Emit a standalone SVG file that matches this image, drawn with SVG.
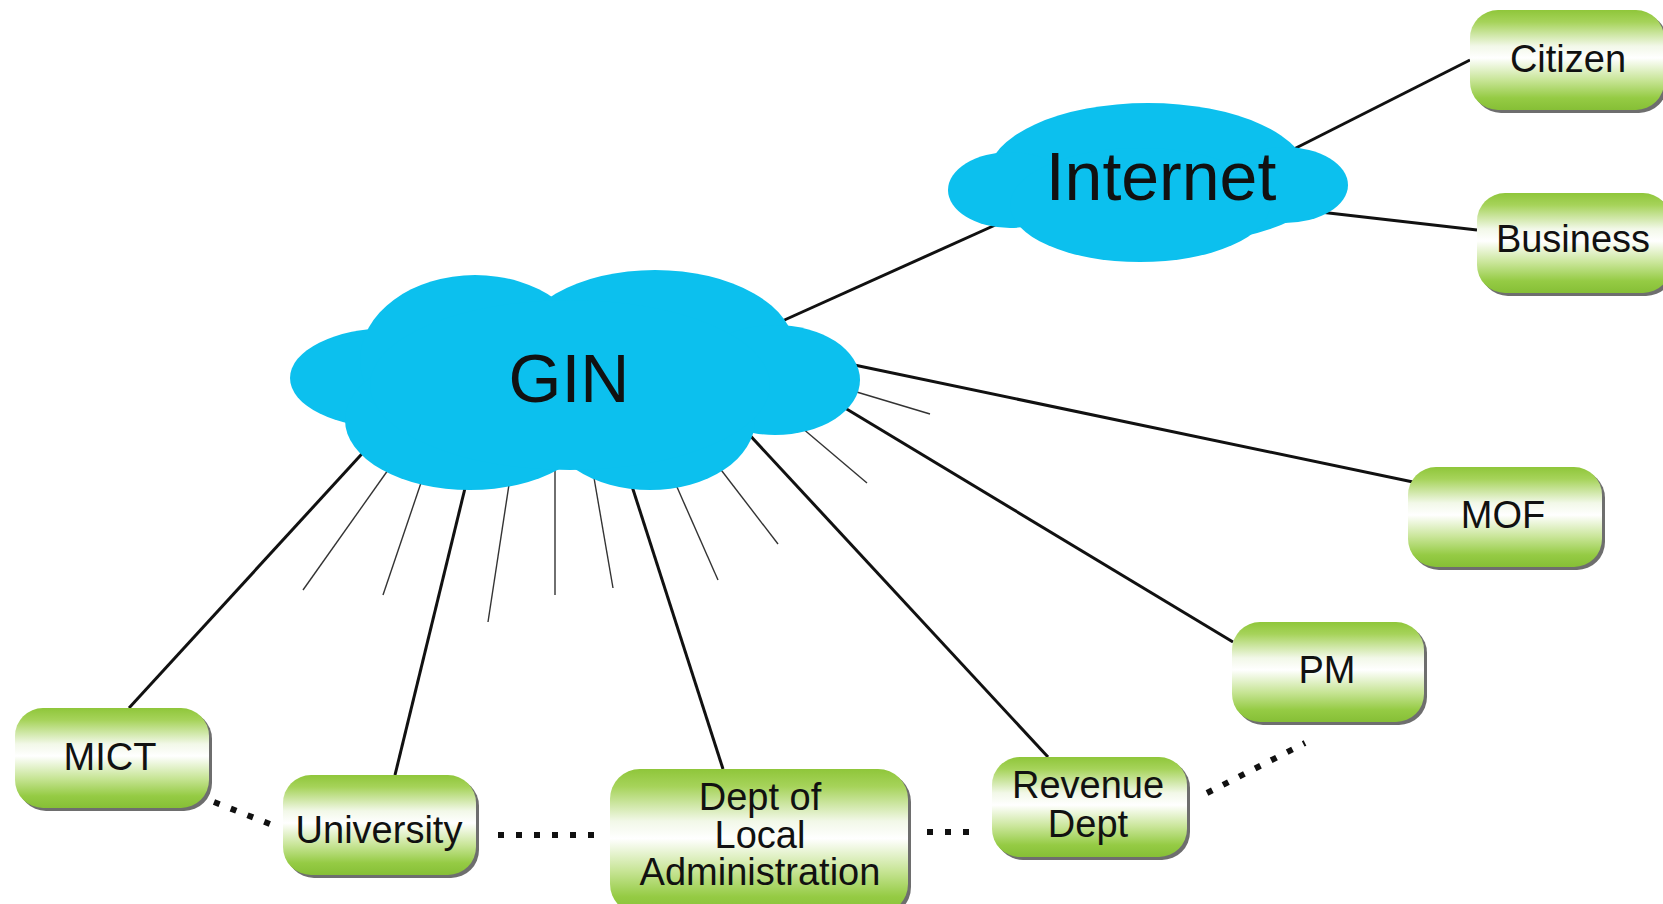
<svg xmlns="http://www.w3.org/2000/svg" width="1663" height="904" viewBox="0 0 1663 904">
<defs>
<linearGradient id="g" x1="0" y1="0" x2="0" y2="1">
<stop offset="0" stop-color="#8fc63a"/>
<stop offset="0.12" stop-color="#a6d35a"/>
<stop offset="0.36" stop-color="#f2f8e8"/>
<stop offset="0.48" stop-color="#ffffff"/>
<stop offset="0.7" stop-color="#c8e597"/>
<stop offset="0.88" stop-color="#95cb44"/>
<stop offset="1" stop-color="#86bf36"/>
</linearGradient>
<style>
.box{fill:url(#g);}
.sh{fill:#6e6e6e;}
.cloud{fill:#0cc0ee;}
.lbl{font-family:"Liberation Sans",Arial,sans-serif;font-size:38px;fill:#111;text-anchor:middle;}
.big{font-family:"Liberation Sans",Arial,sans-serif;font-size:68px;fill:#111;text-anchor:middle;}
.thick{stroke:#111;stroke-width:3;fill:none;}
.thin{stroke:#333;stroke-width:1.4;fill:none;}
.dot{stroke:#111;stroke-width:6;fill:none;stroke-dasharray:6 12;}
</style>
</defs>
<rect width="1663" height="904" fill="#ffffff"/>
<g id="connectors">
<line class="thick" x1="780" y1="322" x2="1002" y2="222"/>
<line class="thick" x1="1290" y1="151" x2="1470" y2="60"/>
<line class="thick" x1="1320" y1="212" x2="1477" y2="230"/>
<line class="thick" x1="840" y1="362" x2="1413" y2="482"/>
<line class="thick" x1="835" y1="402" x2="1233" y2="642"/>
<line class="thick" x1="745" y1="430" x2="1048" y2="757"/>
<line class="thick" x1="630" y1="480" x2="723" y2="769"/>
<line class="thick" x1="467" y1="480" x2="395" y2="775"/>
<line class="thick" x1="370" y1="445" x2="129" y2="708"/>
<line class="thin" x1="850" y1="390" x2="930" y2="414"/>
<line class="thin" x1="795" y1="422" x2="867" y2="483"/>
<line class="thin" x1="715" y1="462" x2="778" y2="544"/>
<line class="thin" x1="673" y1="478" x2="718" y2="580"/>
<line class="thin" x1="593" y1="472" x2="613" y2="588"/>
<line class="thin" x1="555" y1="465" x2="555" y2="595"/>
<line class="thin" x1="510" y1="478" x2="488" y2="622"/>
<line class="thin" x1="424" y1="474" x2="383" y2="595"/>
<line class="thin" x1="393" y1="463" x2="303" y2="590"/>
<line class="dot" x1="214" y1="802" x2="280" y2="828"/>
<line class="dot" x1="498" y1="835" x2="600" y2="835"/>
<line class="dot" x1="927" y1="832" x2="980" y2="832"/>
<line class="dot" x1="1207" y1="793" x2="1305" y2="743"/>
</g>
<g id="GIN">
<g class="cloud">
<ellipse cx="390" cy="378" rx="100" ry="50"/>
<ellipse cx="475" cy="360" rx="115" ry="85"/>
<ellipse cx="655" cy="350" rx="140" ry="80"/>
<ellipse cx="775" cy="380" rx="85" ry="55"/>
<ellipse cx="470" cy="420" rx="125" ry="70"/>
<ellipse cx="650" cy="420" rx="105" ry="70"/>
<ellipse cx="570" cy="385" rx="200" ry="85"/>
</g>
<text class="big" x="569" y="402">GIN</text>
</g>
<g id="Internet">
<g class="cloud">
<ellipse cx="1150" cy="188" rx="170" ry="58"/>
<ellipse cx="1148" cy="176" rx="160" ry="73"/>
<ellipse cx="1010" cy="190" rx="62" ry="38"/>
<ellipse cx="1285" cy="185" rx="63" ry="38"/>
<ellipse cx="1140" cy="205" rx="130" ry="57"/>
</g>
<text class="big" x="1161" y="200">Internet</text>
</g>
<g id="MICT">
<rect class="sh" x="18" y="711" width="194" height="100" rx="28"/>
<rect class="box" x="15" y="708" width="194" height="100" rx="28"/>
<text class="lbl" x="110" y="770">MICT</text>
</g>
<g id="University">
<rect class="sh" x="286" y="778" width="193" height="100" rx="28"/>
<rect class="box" x="283" y="775" width="193" height="100" rx="28"/>
<text class="lbl" x="379" y="843">University</text>
</g>
<g id="DeptLocal">
<rect class="sh" x="613" y="772" width="298" height="145" rx="30"/>
<rect class="box" x="610" y="769" width="298" height="145" rx="30"/>
<text class="lbl" x="760" y="810">Dept of<tspan x="760" dy="38">Local</tspan><tspan x="760" dy="37">Administration</tspan></text>
</g>
<g id="Revenue">
<rect class="sh" x="995" y="760" width="195" height="100" rx="28"/>
<rect class="box" x="992" y="757" width="195" height="100" rx="28"/>
<text class="lbl" x="1088" y="798">Revenue<tspan x="1088" dy="39">Dept</tspan></text>
</g>
<g id="PM">
<rect class="sh" x="1235" y="625" width="192" height="100" rx="28"/>
<rect class="box" x="1232" y="622" width="192" height="100" rx="28"/>
<text class="lbl" x="1327" y="683">PM</text>
</g>
<g id="MOF">
<rect class="sh" x="1411" y="470" width="194" height="100" rx="28"/>
<rect class="box" x="1408" y="467" width="194" height="100" rx="28"/>
<text class="lbl" x="1503" y="528">MOF</text>
</g>
<g id="Citizen">
<rect class="sh" x="1473" y="13" width="194" height="100" rx="28"/>
<rect class="box" x="1470" y="10" width="194" height="100" rx="28"/>
<text class="lbl" x="1568" y="72">Citizen</text>
</g>
<g id="Business">
<rect class="sh" x="1480" y="196" width="194" height="100" rx="28"/>
<rect class="box" x="1477" y="193" width="194" height="100" rx="28"/>
<text class="lbl" x="1573" y="252">Business</text>
</g>
</svg>
